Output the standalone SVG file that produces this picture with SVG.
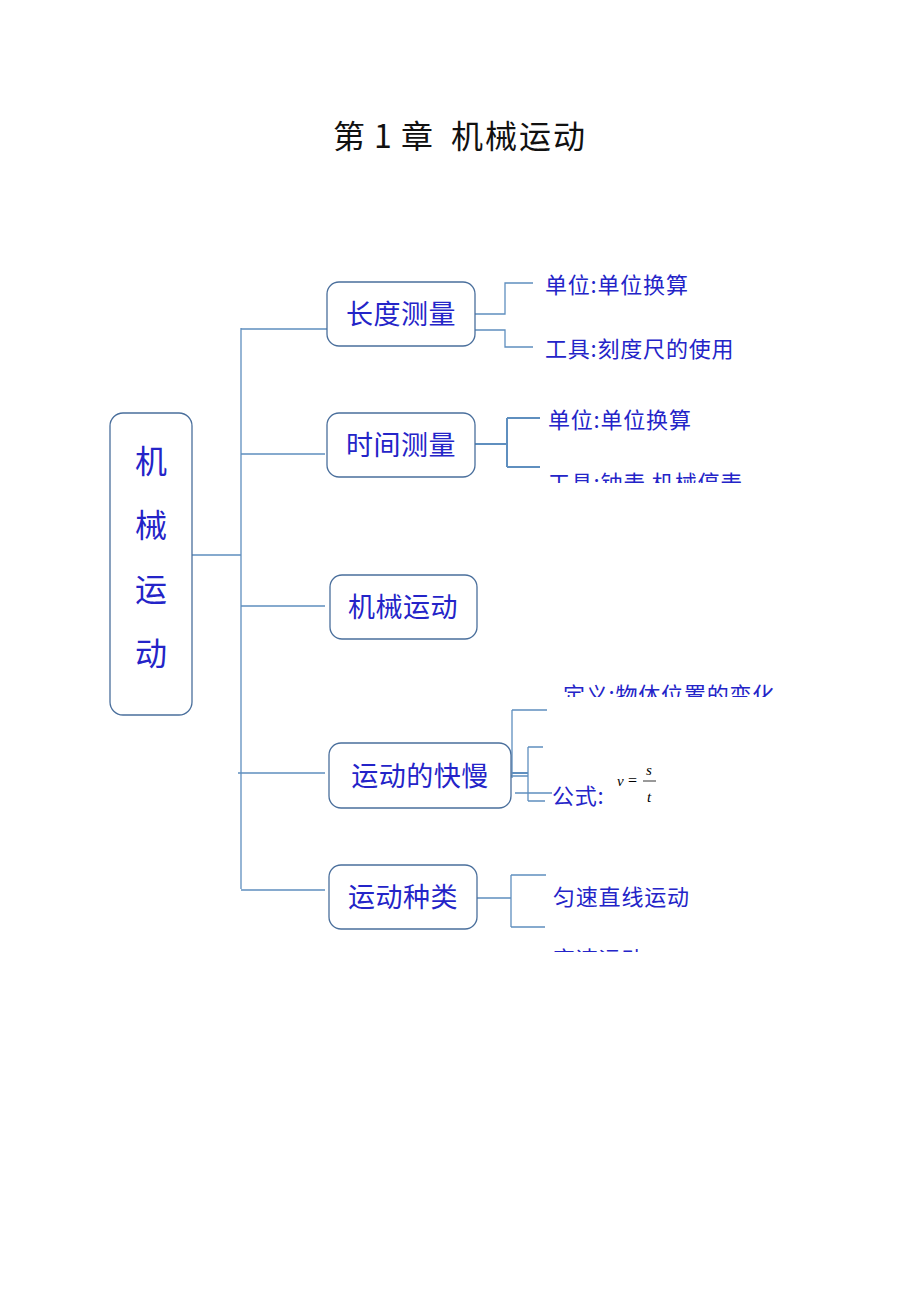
<svg xmlns="http://www.w3.org/2000/svg" width="920" height="1302" viewBox="0 0 920 1302">
<style>
.box{fill:#fff;stroke:#4a6f9c;stroke-width:1.3}
.ln{stroke:#5f8fbf;stroke-width:1.3;fill:none}
.t{font-family:"Noto Sans CJK SC","Liberation Sans",sans-serif;fill:#2424c8}
.bt{font-size:27px;letter-spacing:0.5px}
.lt{font-size:22px;letter-spacing:0.8px}
.m{font-family:"Liberation Serif",serif;font-style:italic;font-size:15px;fill:#000}
</style>
<defs>
<clipPath id="c1"><rect x="540" y="470" width="260" height="13"/></clipPath>
<clipPath id="c2"><rect x="540" y="676" width="260" height="21"/></clipPath>
<clipPath id="c3"><rect x="540" y="940" width="260" height="12"/></clipPath>
</defs>
<rect width="920" height="1302" fill="#fff"/>
<text y="148" style="font-family:'Noto Sans CJK SC','Liberation Sans',sans-serif;font-size:32px;fill:#111"><tspan x="333">第</tspan><tspan x="374">1</tspan><tspan x="401">章</tspan><tspan x="451" letter-spacing="2">机械运动</tspan></text>
<g id="connectors">
<path class="ln" d="M192 555H241M241 328V889M241 329H327M241 454H325M241 606H325M238 773H325M241 890H325"/>
<path class="ln" d="M475 314H505V283H533M475 330H505V347H533"/>
<path class="ln" d="M475 444H507M507 418V467M507 418H540M507 467H540" style="stroke-width:2"/>
<path class="ln" d="M512 710V778M512 710H547M528 747V801M528 747H543M528 801H545M490 776H528M515 793H552"/>
<path class="ln" d="M512 773H528" style="stroke-width:2"/>
<path class="ln" d="M477 898H511M511 875V927M511 875H546M511 927H545"/>
</g>
<g id="n-main">
<rect class="box" x="110" y="413" width="82" height="302" rx="13"/>
<text class="t" x="151" y="473" text-anchor="middle" font-size="32">机</text>
<text class="t" x="151" y="537" text-anchor="middle" font-size="32">械</text>
<text class="t" x="151" y="601" text-anchor="middle" font-size="32">运</text>
<text class="t" x="151" y="665" text-anchor="middle" font-size="32">动</text>
</g>
<g id="n-length">
<rect class="box" x="327" y="282" width="148" height="64" rx="12"/>
<text class="t bt" x="401" y="324" text-anchor="middle">长度测量</text>
</g>
<g id="n-time">
<rect class="box" x="327" y="413" width="148" height="64" rx="12"/>
<text class="t bt" x="401" y="455" text-anchor="middle">时间测量</text>
</g>
<g id="n-mech">
<rect class="box" x="330" y="575" width="147" height="64" rx="12"/>
<text class="t bt" x="403" y="617" text-anchor="middle">机械运动</text>
</g>
<g id="n-speed">
<rect class="box" x="329" y="743" width="182" height="65" rx="12"/>
<text class="t bt" x="420" y="786" text-anchor="middle">运动的快慢</text>
</g>
<g id="n-kind">
<rect class="box" x="329" y="865" width="148" height="64" rx="12"/>
<text class="t bt" x="403" y="907" text-anchor="middle">运动种类</text>
</g>
<g id="leaf-len-unit"><text class="t lt" x="545" y="293">单位:单位换算</text></g>
<g id="leaf-len-tool"><text class="t lt" x="545" y="357">工具:刻度尺的使用</text></g>
<g id="leaf-time-unit"><text class="t lt" x="548" y="428">单位:单位换算</text></g>
<g id="leaf-time-tool" clip-path="url(#c1)"><text class="t lt" x="548" y="491">工具:钟表 机械停表</text></g>
<g id="leaf-def" clip-path="url(#c2)"><text class="t lt" x="563" y="703">定义:物体位置的变化</text></g>
<g id="leaf-formula">
<text class="t lt" x="552" y="804">公式:</text>
<text class="m" x="617" y="786">v</text>
<text x="628" y="786" style="font-family:'Liberation Serif',serif;font-size:16px">=</text>
<text class="m" x="646" y="775">s</text>
<line x1="643" y1="781" x2="656" y2="781" stroke="#000" stroke-width="0.8"/>
<text class="m" x="647" y="802">t</text>
</g>
<g id="leaf-uniform"><text class="t lt" x="553" y="905">匀速直线运动</text></g>
<g id="leaf-variable" clip-path="url(#c3)"><text class="t lt" x="553" y="967">变速运动</text></g>
</svg>
